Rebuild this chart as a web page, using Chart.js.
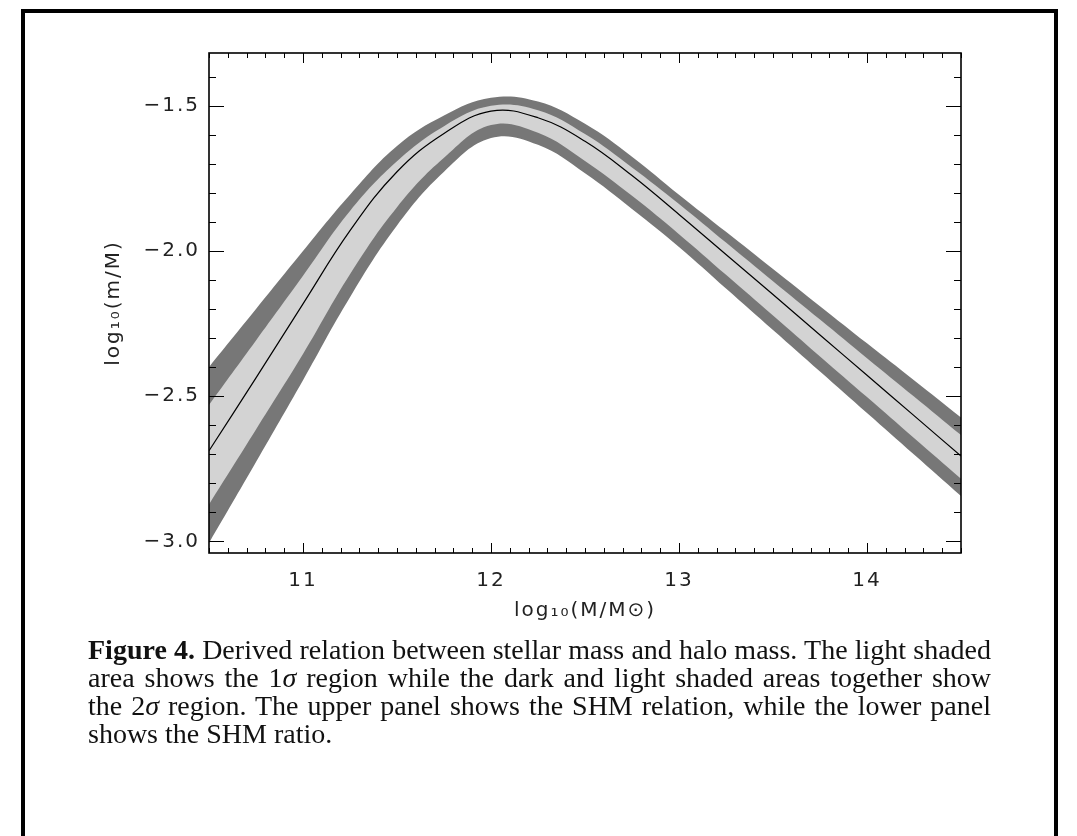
<!DOCTYPE html>
<html>
<head>
<meta charset="utf-8">
<title>Stellar mass – halo mass relation</title>
<script src="https://cdn.jsdelivr.net/npm/chart.js@4.4.1/dist/chart.umd.min.js"></script>
<style>
  html, body { margin: 0; padding: 0; background: #fff; overflow: hidden; }
  #page { position: relative; width: 1077px; height: 836px; }
  #frame {
    position: absolute; left: 21px; top: 9px; width: 1029px; height: 900px;
    border: 4px solid #000; border-bottom: none;
  }
  #plot { position: absolute; left: 0; top: 0; width: 1077px; height: 640px; }
  #caption {
    position: absolute; left: 88px; top: 636px; width: 903px;
    font-family: "Liberation Serif", "Times New Roman", serif;
    font-size: 28px; line-height: 28px; color: #111;
  }
  #caption div { text-align: justify; text-align-last: justify; white-space: nowrap; }
  #caption div.last { text-align-last: left; }
</style>
</head>
<body>
<div id="page">
  <div id="frame"></div>
  <canvas id="plot" width="1077" height="640"></canvas>
  <div id="caption">
    <div><b>Figure 4.</b> Derived relation between stellar mass and halo mass. The light shaded</div>
    <div>area shows the 1<i>σ</i> region while the dark and light shaded areas together show</div>
    <div>the 2<i>σ</i> region. The upper panel shows the SHM relation, while the lower panel</div>
    <div class="last">shows the SHM ratio.</div>
  </div>
</div>
<script>
// halo mass grid, log10(M/Msun)
const haloMass = [10.5, 10.75, 11.0, 11.25, 11.5, 11.75, 12.0, 12.25, 12.5, 12.75, 13.0, 13.25, 13.5, 13.75, 14.0, 14.25, 14.5];
// stellar-to-halo mass ratio, log10(m/M): median and 1/2 sigma envelopes
const ratioMedian = [-2.688, -2.437, -2.182, -1.930, -1.727, -1.595, -1.518, -1.541, -1.622, -1.740, -1.874, -2.012, -2.150, -2.289, -2.428, -2.567, -2.706];
const upper1sig   = [-2.530, -2.308, -2.085, -1.862, -1.691, -1.570, -1.500, -1.515, -1.597, -1.712, -1.838, -1.971, -2.104, -2.236, -2.369, -2.501, -2.634];
const lower1sig   = [-2.873, -2.615, -2.355, -2.080, -1.849, -1.679, -1.566, -1.593, -1.690, -1.810, -1.942, -2.082, -2.222, -2.363, -2.503, -2.644, -2.784];
const upper2sig   = [-2.400, -2.200, -2.000, -1.806, -1.638, -1.533, -1.472, -1.485, -1.562, -1.675, -1.806, -1.934, -2.062, -2.190, -2.318, -2.445, -2.573];
const lower2sig   = [-3.006, -2.727, -2.445, -2.159, -1.912, -1.727, -1.611, -1.634, -1.732, -1.855, -1.986, -2.129, -2.272, -2.415, -2.558, -2.701, -2.844];

// axis ticks
const xLabelTicks = [11, 12, 13, 14];
const yLabelTicks = [-3.0, -2.5, -2.0, -1.5];
const xMinorTicks = [];
for (let k = 105; k <= 145; k++) xMinorTicks.push(k / 10);
const yMinorTicks = [];
for (let k = -30; k <= -14; k++) yMinorTicks.push(k / 10);

const DARK = '#777777';
const LIGHT = '#d3d3d3';
const TEXT = '#222222';
const AXIS_FONT = { family: '"DejaVu Sans", sans-serif', size: 20, lineHeight: 1.2 };
const SMOOTH = 0.4;

const pts = arr => haloMass.map((x, i) => ({ x: x, y: arr[i] }));

function band(data, color, fill, order) {
    return {
        data: pts(data),
        borderWidth: 0,
        pointRadius: 0,
        backgroundColor: color,
        fill: fill,
        order: order,
        tension: SMOOTH
    };
}

const isLabel = (list, v) => list.some(t => Math.abs(t - v) < 1e-6);
const minus = v => v.toFixed(1).replace('-', '\u2212');

// IDL style: inward ticks on all four sides, plus a frame
const inwardTicks = {
    id: 'inwardTicks',
    beforeDraw(chart) {
        chart.ctx.letterSpacing = '2px';
    },
    afterDraw(chart) {
        const { ctx, chartArea: a, scales: { x, y } } = chart;
        ctx.save();
        ctx.strokeStyle = '#000';
        ctx.lineWidth = 1;
        ctx.beginPath();
        x.ticks.forEach(t => {
            const px = Math.round(x.getPixelForValue(t.value)) + 0.5;
            const len = isLabel(xLabelTicks, t.value) ? 10 : 5;
            ctx.moveTo(px, a.bottom); ctx.lineTo(px, a.bottom - len);
            ctx.moveTo(px, a.top); ctx.lineTo(px, a.top + len);
        });
        y.ticks.forEach(t => {
            const py = Math.round(y.getPixelForValue(t.value)) + 0.5;
            const len = isLabel(yLabelTicks, t.value) ? 15 : 7;
            ctx.moveTo(a.left, py); ctx.lineTo(a.left + len, py);
            ctx.moveTo(a.right, py); ctx.lineTo(a.right - len, py);
        });
        ctx.stroke();
        ctx.lineWidth = 1.6;
        ctx.strokeRect(a.left, a.top, a.right - a.left, a.bottom - a.top);
        ctx.restore();
    }
};

new Chart(document.getElementById('plot'), {
    type: 'line',
    data: {
        datasets: [
            band(upper2sig, DARK, '+1', 3),
            band(lower2sig, DARK, false, 3),
            band(upper1sig, LIGHT, '+1', 2),
            band(lower1sig, LIGHT, false, 2),
            {
                data: pts(ratioMedian),
                borderColor: '#000',
                borderWidth: 1.2,
                pointRadius: 0,
                fill: false,
                order: 1,
                tension: SMOOTH
            }
        ]
    },
    options: {
        responsive: false,
        animation: false,
        events: [],
        layout: { padding: { left: 0, top: 53, right: 116, bottom: 0 } },
        plugins: {
            legend: { display: false },
            tooltip: { enabled: false },
            filler: { drawTime: 'beforeDatasetsDraw' }
        },
        scales: {
            x: {
                type: 'linear',
                min: 10.5,
                max: 14.5,
                afterFit(scale) { scale.height = 87; },
                afterBuildTicks(scale) { scale.ticks = xMinorTicks.map(v => ({ value: v })); },
                grid: { display: false, drawTicks: false },
                border: { display: false },
                ticks: {
                    autoSkip: false,
                    maxRotation: 0,
                    padding: 16,
                    color: TEXT,
                    font: AXIS_FONT,
                    callback: v => isLabel(xLabelTicks, v) ? String(Math.round(v)) : ''
                },
                title: {
                    display: true,
                    text: 'log\u2081\u2080(M/M\u2299)',
                    color: TEXT,
                    font: AXIS_FONT,
                    padding: { top: 0, bottom: 17 }
                }
            },
            y: {
                type: 'linear',
                min: -3.04,
                max: -1.318,
                afterFit(scale) { scale.width = 209; },
                afterBuildTicks(scale) { scale.ticks = yMinorTicks.map(v => ({ value: v })); },
                grid: { display: false, drawTicks: false },
                border: { display: false },
                ticks: {
                    autoSkip: false,
                    padding: 9,
                    color: TEXT,
                    font: AXIS_FONT,
                    callback: v => isLabel(yLabelTicks, v) ? minus(v) : ''
                },
                title: {
                    display: true,
                    text: 'log\u2081\u2080(m/M)',
                    color: TEXT,
                    font: AXIS_FONT,
                    padding: { top: 102, bottom: 0 }
                }
            }
        }
    },
    plugins: [inwardTicks]
});
</script>
</body>
</html>
